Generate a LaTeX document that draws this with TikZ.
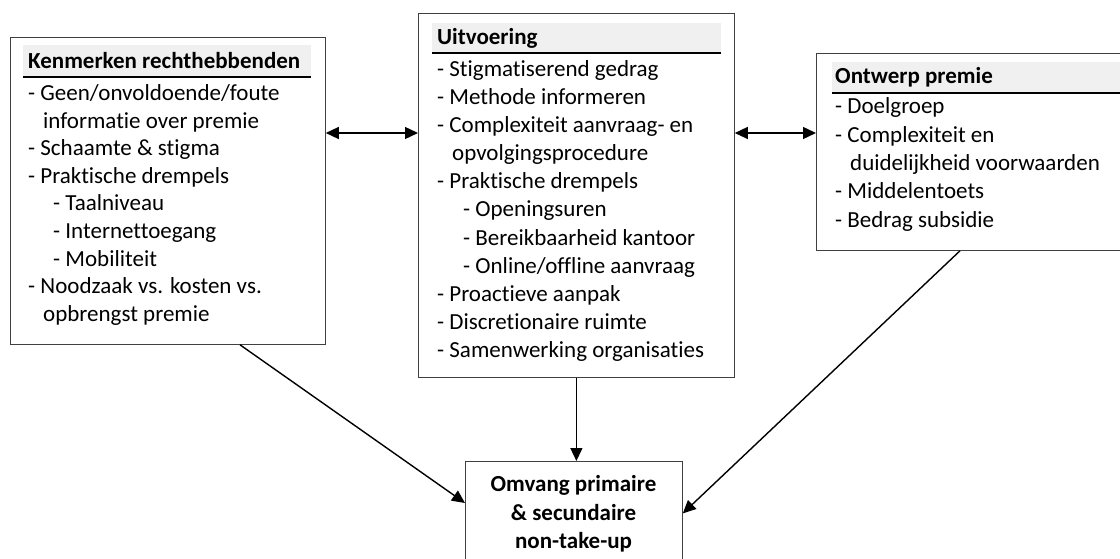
\documentclass[tikz,border=0pt]{standalone}
\usepackage{fontspec}
\setmainfont{Carlito}[Ligatures=NoCommon]
\usetikzlibrary{arrows.meta,calc}
\begin{document}
\begin{tikzpicture}[x=1pt,y=-1pt,
  box/.style={draw=black!75,line width=0.8pt,anchor=north west,inner sep=0pt,fill=white},
  band/.style={fill=black!6,draw=none},
  txt/.style={anchor=base west,inner sep=0pt,font=\fontsize{23}{27}\selectfont},
  head/.style={txt,font=\fontsize{23}{27}\selectfont\bfseries},
  ctr/.style={anchor=base,inner sep=0pt,font=\fontsize{23}{27}\selectfont\bfseries},
  arr/.style={line width=1.4pt,-{Triangle[length=13pt,width=12pt]}},
  darr/.style={line width=1.4pt,{Triangle[length=13pt,width=12pt]}-{Triangle[length=13pt,width=12pt]}},
  rule/.style={line width=1.4pt}]
\useasboundingbox (0,0) rectangle (1120,559);
% boxes
\node[box,minimum width=315pt,minimum height=307pt] (L) at (10,37) {};
\node[box,minimum width=316pt,minimum height=364pt] (M) at (418,13) {};
\node[box,minimum width=306pt,minimum height=197pt] (R) at (816,53) {};
\node[box,minimum width=217pt,minimum height=104pt] (B) at (465,461) {};
% header bands
\fill[band] (23,45) rectangle (311,77);
\draw[rule] (23,77) -- (311,77);
\fill[band] (432,23) rectangle (721,53);
\draw[rule] (432,53) -- (721,53);
\fill[band] (832,62) rectangle (1122,93);
\draw[rule] (832,93) -- (1122,93);
% headers
\node[head] (Lh) at (28,69) {Kenmerken rechthebbenden};
\node[head] (Mh) at (437,45) {Uitvoering};
\node[head] (Rh) at (835,84) {Ontwerp premie};
% left lines
\foreach \t [count=\i] in {- Geen/onvoldoende/foute,
  \hspace*{15pt}informatie over premie,
  - Schaamte \& stigma,
  - Praktische drempels,
  \hspace*{25pt}- Taalniveau,
  \hspace*{25pt}- Internettoegang,
  \hspace*{25pt}- Mobiliteit,
  - Noodzaak vs. kosten vs.,
  \hspace*{15pt}opbrengst premie}
  \node[txt] (L\i) at (28,{101+(\i-1)*27.5}) {\t};
% middle lines
\foreach \t [count=\i] in {- Stigmatiserend gedrag,
  - Methode informeren,
  - Complexiteit aanvraag- en,
  \hspace*{15pt}opvolgingsprocedure,
  - Praktische drempels,
  \hspace*{26pt}- Openingsuren,
  \hspace*{26pt}- Bereikbaarheid kantoor,
  \hspace*{26pt}- Online/offline aanvraag,
  - Proactieve aanpak,
  - Discretionaire ruimte,
  - Samenwerking organisaties}
  \node[txt] (M\i) at (437,{77+(\i-1)*28}) {\t};
% right lines
\foreach \t [count=\i] in {- Doelgroep,
  - Complexiteit en,
  \hspace*{15pt}duidelijkheid voorwaarden,
  - Middelentoets,
  - Bedrag subsidie}
  \node[txt] (R\i) at (835,{114+(\i-1)*28.3}) {\t};
% bottom
\node[ctr] (B1) at (573.5,491) {Omvang primaire};
\node[ctr] (B2) at (573.5,520) {\& secundaire};
\node[ctr] (B3) at (573.5,548) {non-take-up};
% connectors
\coordinate (ay) at (0,133);
\draw[darr] (L.east |- ay) -- (M.west |- ay);
\draw[darr] (M.east |- ay) -- (R.west |- ay);
\draw[arr] (M.south) -- (M.south |- B.north);
\draw[arr] ($(L.south west)+(230,0)$) -- ($(B.north west)+(0,42)$);
\draw[arr] ($(R.south west)+(144,0)$) -- (B.east);
\end{tikzpicture}
\end{document}
